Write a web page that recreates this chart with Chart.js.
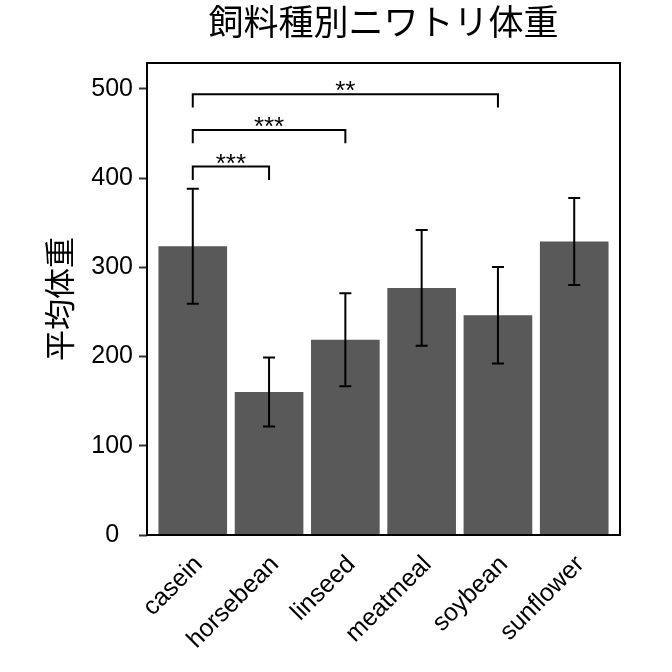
<!DOCTYPE html>
<html>
<head>
<meta charset="utf-8">
<script src="https://cdn.jsdelivr.net/npm/chart.js@4"></script>
<style>
  html, body { margin: 0; padding: 0; background: #fff; }
  #wrap { width: 672px; height: 672px; }
</style>
</head>
<body>
<div id="wrap"><canvas id="chart"></canvas></div>
<script>
// chick weight by feed type: mean and SD
const feeds = ['casein', 'horsebean', 'linseed', 'meatmeal', 'soybean', 'sunflower'];
const meanWeight = [323.6, 160.2, 218.8, 276.9, 246.4, 328.9];
const sdWeight = [64.4, 38.6, 52.2, 64.9, 54.1, 48.8];
const yTicks = [0, 100, 200, 300, 400, 500];

// significance brackets (indexes into feeds)
const bracketFrom = [0, 0, 0];
const bracketTo = [1, 2, 4];
const bracketY = [413, 454, 494];
const bracketLabels = ['***', '***', '**'];

const FONT = '"Liberation Sans", Arial, "Noto Sans CJK JP", sans-serif';

// error bars
const errorBars = {
    id: 'errorBars',
    afterDatasetsDraw(chart) {
        const ctx = chart.ctx;
        const x = chart.scales.x, y = chart.scales.y;
        ctx.save();
        ctx.strokeStyle = '#000';
        ctx.lineWidth = 2;
        feeds.forEach((f, i) => {
            const px = x.getPixelForValue(i + 1);
            const top = y.getPixelForValue(meanWeight[i] + sdWeight[i]);
            const bot = y.getPixelForValue(meanWeight[i] - sdWeight[i]);
            ctx.beginPath();
            ctx.moveTo(px, top); ctx.lineTo(px, bot);
            ctx.moveTo(px - 6, top); ctx.lineTo(px + 6, top);
            ctx.moveTo(px - 6, bot); ctx.lineTo(px + 6, bot);
            ctx.stroke();
        });
        ctx.restore();
    }
};

// brackets + stars
const brackets = {
    id: 'brackets',
    afterDatasetsDraw(chart) {
        const ctx = chart.ctx;
        const x = chart.scales.x, y = chart.scales.y;
        ctx.save();
        ctx.strokeStyle = '#000';
        ctx.lineWidth = 2;
        ctx.fillStyle = '#000';
        ctx.font = '26px ' + FONT;
        ctx.textAlign = 'center';
        ctx.textBaseline = 'alphabetic';
        bracketY.forEach((v, i) => {
            const x1 = x.getPixelForValue(bracketFrom[i] + 1);
            const x2 = x.getPixelForValue(bracketTo[i] + 1);
            const py = y.getPixelForValue(v);
            const tip = y.getPixelForValue(v - 15);
            ctx.beginPath();
            ctx.moveTo(x1, tip); ctx.lineTo(x1, py); ctx.lineTo(x2, py); ctx.lineTo(x2, tip);
            ctx.stroke();
            ctx.fillText(bracketLabels[i], (x1 + x2) / 2, py + 5);
        });
        ctx.restore();
    }
};

// panel border
const panelBorder = {
    id: 'panelBorder',
    afterDraw(chart) {
        const a = chart.chartArea, ctx = chart.ctx;
        ctx.save();
        ctx.strokeStyle = '#000';
        ctx.lineWidth = 2;
        ctx.strokeRect(a.left, a.top, a.right - a.left, a.bottom - a.top);
        ctx.restore();
    }
};

new Chart(document.getElementById('chart'), {
    type: 'bar',
    data: {
        datasets: [{
            data: meanWeight.map((m, i) => ({ x: i + 1, y: m })),
            backgroundColor: '#595959',
            borderWidth: 0,
            categoryPercentage: 1,
            barPercentage: 0.9
        }]
    },
    options: {
        responsive: true,
        maintainAspectRatio: false,
        animation: false,
        layout: { padding: { left: 0, right: 52, top: 0, bottom: 0 } },
        plugins: {
            legend: { display: false },
            tooltip: { enabled: false },
            title: {
                display: true,
                text: '飼料種別ニワトリ体重',
                fullSize: false,
                color: '#000',
                font: { family: FONT, size: 35, weight: 'normal', lineHeight: 1.2 },
                padding: { top: 4, bottom: 17 }
            }
        },
        scales: {
            x: {
                type: 'linear',
                min: 0.4,
                max: 6.6,
                offset: false,
                grid: { display: false },
                border: { display: false },
                afterBuildTicks: s => { s.ticks = feeds.map((f, i) => ({ value: i + 1 })); },
                afterFit: s => { s.height = 137; },
                ticks: {
                    color: '#000',
                    font: { family: FONT, size: 25 },
                    maxRotation: 45,
                    minRotation: 45,
                    padding: 7,
                    labelOffset: 6,
                    callback: v => feeds[v - 1]
                }
            },
            y: {
                min: 0,
                max: 529,
                afterBuildTicks: s => { s.ticks = yTicks.map(v => ({ value: v })); },
                afterFit: s => { s.width = 147; },
                grid: { drawOnChartArea: false, tickLength: 8, tickWidth: 2, tickColor: '#333' },
                border: { display: false },
                ticks: {
                    color: '#000',
                    font: { family: FONT, size: 25 },
                    padding: 6,
                    callback: v => v === 0 ? '0  ' : String(v)
                },
                title: {
                    display: true,
                    text: '平均体重',
                    color: '#000',
                    font: { family: FONT, size: 31 },
                    padding: { top: 44, bottom: 0 }
                }
            }
        }
    },
    plugins: [errorBars, brackets, panelBorder]
});
</script>
</body>
</html>
